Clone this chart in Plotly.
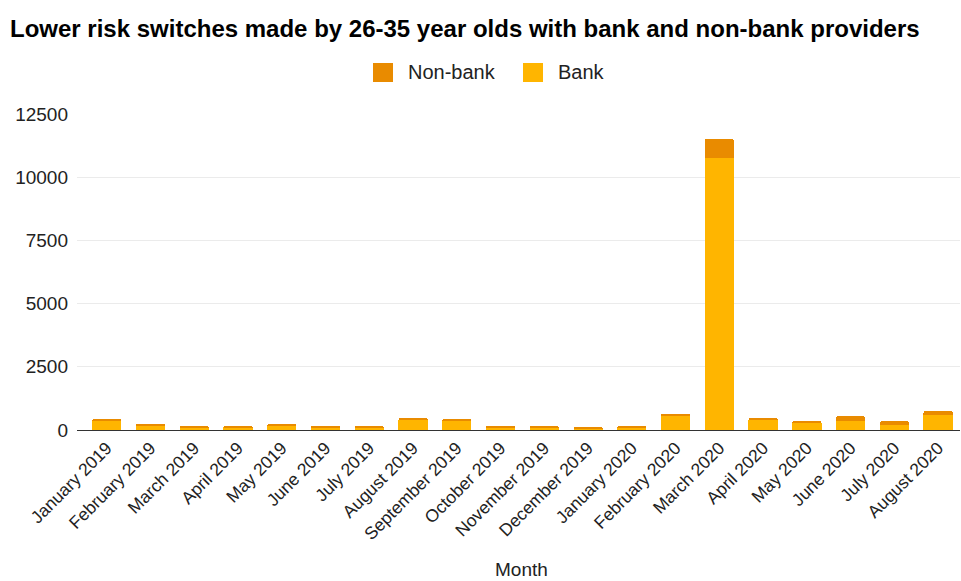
import plotly.graph_objects as go

months = [
    "January 2019", "February 2019", "March 2019", "April 2019", "May 2019",
    "June 2019", "July 2019", "August 2019", "September 2019", "October 2019",
    "November 2019", "December 2019", "January 2020", "February 2020",
    "March 2020", "April 2020", "May 2020", "June 2020", "July 2020",
    "August 2020",
]
bank = [390, 165, 115, 115, 165, 115, 115, 410, 370, 115,
        115, 65, 115, 570, 10760, 395, 305, 340, 200, 590]
non_bank = [40, 60, 45, 45, 60, 45, 45, 65, 55, 45,
            45, 35, 45, 50, 750, 80, 50, 210, 145, 160]
y_ticks = [0, 2500, 5000, 7500, 10000, 12500]
y_tick_labels = [str(v) for v in y_ticks]

BANK_COLOR = "#FFB500"
NONBANK_COLOR = "#E98B00"
FONT = "Liberation Sans, Arial, sans-serif"

W, H = 961, 581
PLOT_L, PLOT_R, PLOT_T, PLOT_B = 77, 960, 114, 430

fig = go.Figure()
fig.add_trace(go.Bar(x=months, y=bank, name="Bank", marker_color=BANK_COLOR,
                     marker_line_width=0, showlegend=False))
fig.add_trace(go.Bar(x=months, y=non_bank, name="Non-bank", marker_color=NONBANK_COLOR,
                     marker_line_width=0, showlegend=False))


def px_x(px):
    return (px - PLOT_L) / (PLOT_R - PLOT_L)


def px_y(py):
    return (PLOT_B - py) / (PLOT_B - PLOT_T)


# Legend drawn as swatches + labels above the plot
legend_items = [("Non-bank", NONBANK_COLOR, 373), ("Bank", BANK_COLOR, 523)]
for label, color, left in legend_items:
    fig.add_shape(type="rect", xref="paper", yref="paper",
                  x0=px_x(left), x1=px_x(left + 20), y0=px_y(82), y1=px_y(63),
                  fillcolor=color, line_width=0)
    fig.add_annotation(text=label, xref="paper", yref="paper",
                       x=px_x(left + 33), y=px_y(72), xanchor="left", yanchor="middle",
                       showarrow=False, font=dict(family=FONT, size=20, color="#222222"))

# x-axis title
fig.add_annotation(text="Month", xref="paper", yref="paper", x=px_x(521), y=px_y(569),
                   xanchor="center", yanchor="middle", showarrow=False,
                   font=dict(family=FONT, size=19, color="#222222"))

fig.update_layout(
    width=W, height=H,
    margin=dict(l=PLOT_L, r=W - PLOT_R, t=PLOT_T, b=H - PLOT_B),
    paper_bgcolor="white", plot_bgcolor="white",
    barmode="stack", bargap=0.33, barcornerradius=2,
    title=dict(text="Lower risk switches made by 26-35 year olds with bank and non-bank providers",
               x=10 / W, xanchor="left", xref="container",
               y=1 - 29 / H, yanchor="middle", yref="container",
               font=dict(family=FONT, size=24, color="#000000", weight="bold")),
    font=dict(family=FONT, color="#222222"),
    xaxis=dict(range=[-0.68, 19.5], tickangle=-45, tickfont=dict(size=17.5),
               showline=True, linecolor="#333333", linewidth=1, showgrid=False,
               ticks=""),
    yaxis=dict(range=[0, 12500], tickvals=y_ticks, ticktext=y_tick_labels,
               tickfont=dict(size=19),
               showgrid=True, gridcolor="#EBEBEB", gridwidth=1, zeroline=False,
               ticklabelstandoff=8, showline=False),
)

fig.write_html("out.html")
